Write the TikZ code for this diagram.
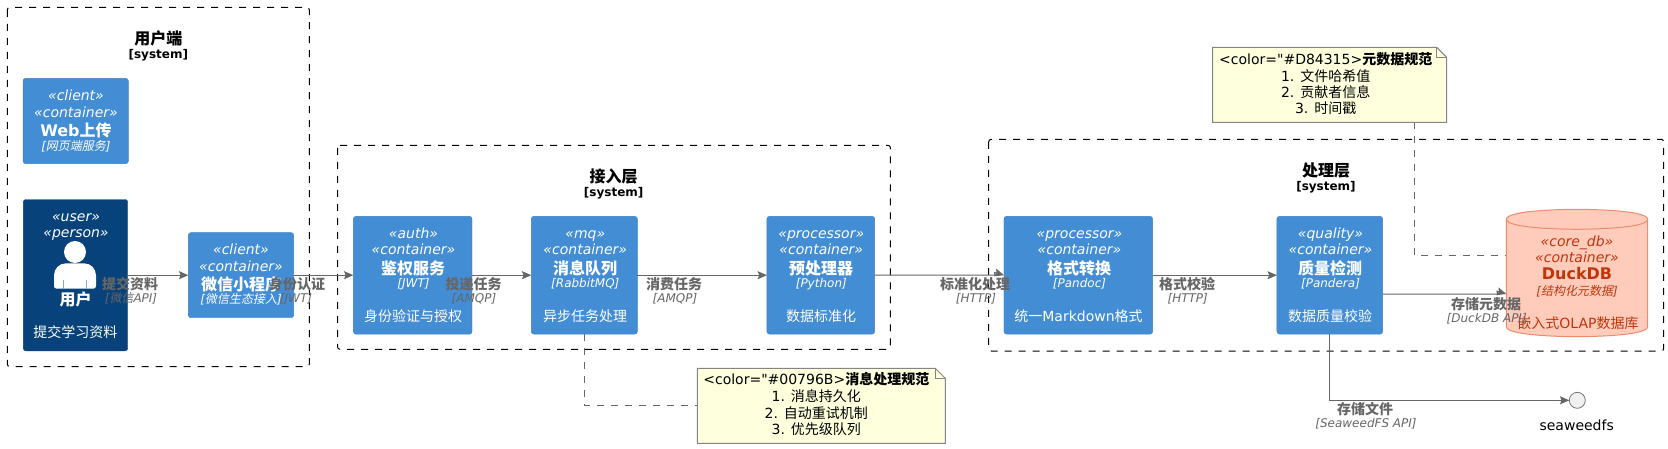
\documentclass[tikz,border=0pt]{standalone}
\usepackage{fontspec}
\usetikzlibrary{arrows.meta}
\setmainfont[Ligatures=TeXOff]{DejaVu Sans}
\newfontfamily\cjk[AutoFakeSlant=0.2]{Noto Sans CJK SC}
\newcommand{\C}[1]{{\cjk #1}}
\definecolor{cblue}{HTML}{438DD5}
\definecolor{cperson}{HTML}{08427B}
\definecolor{cgray}{HTML}{666666}
\definecolor{cnote}{HTML}{FEFFDD}
\definecolor{cnoteline}{HTML}{858585}
\definecolor{cdbfill}{HTML}{FFCCBC}
\definecolor{cdbline}{HTML}{EE8B6E}
\definecolor{cdbtext}{HTML}{BF360C}
\definecolor{cifill}{HTML}{F1F1F1}
\tikzset{
  base/.style={inner sep=0pt,outer sep=0pt},
  sysbox/.style={draw=black,line width=0.75pt,dash pattern=on 5.25pt off 5.25pt,rounded corners=1.9pt,fill=none},
  contbox/.style={base,fill=cblue,draw=cblue!90!black,line width=0.3pt,rounded corners=1.9pt},
  persbox/.style={base,fill=cperson,draw=cperson,line width=0.3pt,rounded corners=1.9pt},
  ster/.style={base,font=\fontsize{10.5}{12}\selectfont\itshape,text height=8.8pt,text depth=2.5pt},
  ttl/.style={base,font=\fontsize{12}{14}\selectfont\bfseries,text height=10.6pt,text depth=1.4pt},
  tech/.style={base,font=\fontsize{9}{11}\selectfont\itshape,text height=7.6pt,text depth=2pt},
  dsc/.style={base,font=\fontsize{10.5}{12}\selectfont,text height=9.5pt,text depth=1pt},
  systitle/.style={base,font=\fontsize{12}{14}\selectfont\bfseries,text height=11pt,text depth=1pt},
  syssub/.style={base,font=\fontsize{9}{11}\selectfont\bfseries,text height=7.8pt,text depth=2pt},
  rel/.style={draw=cgray,line width=0.75pt,-{Stealth[length=7pt,width=6pt,inset=1.2pt,fill=cgray]}},
  rellab/.style={base,text=cgray,font=\fontsize{10.5}{12}\selectfont\bfseries,text height=9.5pt,text depth=1pt},
  reltech/.style={base,text=cgray,font=\fontsize{9}{11}\selectfont\itshape,text height=7.6pt,text depth=2pt},
  notelink/.style={draw=cgray,line width=0.6pt,dash pattern=on 5.25pt off 5.25pt},
  notebody/.style={draw=cnoteline,line width=0.75pt,fill=cnote},
  notetxt/.style={base,font=\fontsize{10.5}{12}\selectfont,text height=8pt,text depth=2.5pt},
  W/.style={text=white},
  D/.style={text=cdbtext}
}
\begin{document}
\begin{tikzpicture}[x=0.75pt,y=-0.75pt]
\useasboundingbox (0,0) rectangle (1668,449);

% system boundaries
\draw[sysbox] (7.3,7.3) rectangle (309.3,366.7);
\draw[sysbox] (337.5,145.3) rectangle (890.4,349.3);
\draw[sysbox] (988.7,139.3) rectangle (1663.7,351);
\node[systitle] (s1t) at (158.3,38.3) {\C{用户端}};
\node[syssub] (s1s) at (158.3,55) {[system]};
\node[systitle] (s2t) at (613.7,176) {\C{接入层}};
\node[syssub] (s2s) at (613.7,193) {[system]};
\node[systitle] (s3t) at (1326,170) {\C{处理层}};
\node[syssub] (s3s) at (1326,187) {[system]};

% boxes
\node[contbox,minimum width=78.9pt,minimum height=64pt] (web) at (75.7,121) {};
\node[persbox,minimum width=78.3pt,minimum height=113.5pt] (user) at (75.5,275.2) {};
\node[contbox,minimum width=79pt,minimum height=63.8pt] (wx) at (241,275.2) {};
\node[contbox,minimum width=89pt,minimum height=88.3pt] (auth) at (412.7,275.2) {};
\node[contbox,minimum width=79.5pt,minimum height=88.3pt] (mq) at (584.3,275.2) {};
\node[contbox,minimum width=80.8pt,minimum height=88.3pt] (pre) at (820.8,275.2) {};
\node[contbox,minimum width=111.5pt,minimum height=88.3pt] (fmt) at (1078.3,275.2) {};
\node[contbox,minimum width=79.3pt,minimum height=88.3pt] (qual) at (1329.8,275.2) {};

% database
\node[base,minimum width=106pt,minimum height=95.5pt] (duck) at (1577,273) {};
\draw[draw=cdbline,line width=0.75pt,fill=cdbfill]
  (1506.3,219.3) .. controls (1506.3,209.3) and (1577,209.3) .. (1577,209.3)
  .. controls (1577,209.3) and (1647.7,209.3) .. (1647.7,219.3)
  -- (1647.7,326.7) .. controls (1647.7,336.7) and (1577,336.7) .. (1577,336.7)
  .. controls (1577,336.7) and (1506.3,336.7) .. (1506.3,326.7) -- cycle;
\draw[draw=cdbline,line width=0.75pt]
  (1506.3,219.3) .. controls (1506.3,229.3) and (1577,229.3) .. (1577,229.3)
  .. controls (1577,229.3) and (1647.7,229.3) .. (1647.7,219.3);

% interface
\node[base,circle,draw=black!55,line width=0.6pt,fill=cifill,minimum size=12pt] (sw) at (1577.3,400.3) {};

% person icon
\fill[white] (75,252) circle[radius=8.25pt];
\fill[white] (54,288.7) [rounded corners=9pt] -- (54,263.3) -- (96,263.3) [rounded corners=2pt] -- (96,288.7) -- (54,288.7) -- cycle;
\draw[cblue!70!white,line width=0.4pt] (63.3,280) -- (63.3,288.7) (86.3,280) -- (86.3,288.7);

% note links
\coordinate (n2a) at (1414.3,122.3);
\coordinate (n2b) at (1506.3,255.3);
\coordinate (dq) at (1382.7,294);
\coordinate (t1a) at (995,275.2);
\coordinate (t1b) at (994.5,272.4);
\coordinate (t2a) at (1497.5,294);
\coordinate (t2b) at (1497,291.2);
\node[base,minimum width=186pt,minimum height=56.25pt] (nm) at (821.3,405.8) {};
\node[base,minimum width=175.5pt,minimum height=56.25pt] (nd) at (1329.7,84.8) {};
\draw[notelink] (mq.south) -- (mq.south |- nm.west) -- (nm.west);
\draw[notelink] (n2a) -- (n2a |- n2b) -- (n2b);

% notes
\draw[notebody] (697.3,368.3) -- (935.3,368.3) -- (945.3,378.3) -- (945.3,443.3) -- (697.3,443.3) -- cycle;
\draw[notebody,fill=none] (935.3,368.3) -- (935.3,378.3) -- (945.3,378.3);
\draw[notebody] (1212.7,47.3) -- (1436.7,47.3) -- (1446.7,57.3) -- (1446.7,122.3) -- (1212.7,122.3) -- cycle;
\draw[notebody,fill=none] (1436.7,47.3) -- (1436.7,57.3) -- (1446.7,57.3);
\node[notetxt] (m1) at (816.3,380.7) {<color="\#00796B>\textbf{\C{消息处理规范}}};
\node[notetxt] (m2) at (816.3,398.3) {1. \C{消息持久化}};
\node[notetxt] (m3) at (816.3,415) {2. \C{自动重试机制}};
\node[notetxt] (m4) at (816.3,430.7) {3. \C{优先级队列}};
\node[notetxt] (d1) at (1325.7,60.7) {<color="\#D84315>\textbf{\C{元数据规范}}};
\node[notetxt] (d2) at (1325.7,77.7) {1. \C{文件哈希值}};
\node[notetxt] (d3) at (1325.7,93.7) {2. \C{贡献者信息}};
\node[notetxt] (d4) at (1325.7,110) {3. \C{时间戳}};

% connectors
\draw[rel] (user) -- (wx);
\draw[rel] (wx) -- (auth);
\draw[rel] (auth) -- (mq);
\draw[rel] (mq) -- (pre);
\draw[rel] (pre.east) -- (t1a) -- (t1b) -- (fmt.west);
\draw[rel] (fmt) -- (qual);
\draw[rel] (dq) -- (t2a) -- (t2b) -- (dq -| duck.west);
\draw[rel] (qual.south) -- (qual.south |- sw.west) -- (sw.west);

% box texts
\node[ster,W] (web1) at (76,96.7) {«client»};
\node[ster,W] (web2) at (76,113.3) {«container»};
\node[ttl,W] (web3) at (76,130.7) {Web\C{上传}};
\node[tech,W] (web4) at (76,146.7) {[\C{网页端服务}]};

\node[ster,W] (u1) at (76,217.3) {«user»};
\node[ster,W] (u2) at (76,233.3) {«person»};
\node[ttl,W] (u3) at (75.5,299.3) {\C{用户}};
\node[dsc,W] (u4) at (75.5,332.3) {\C{提交学习资料}};

\node[ster,W] (wx1) at (241,250) {«client»};
\node[ster,W] (wx2) at (241,267.3) {«container»};
\node[ttl,W] (wx3) at (241,284) {\C{微信小程序}};
\node[tech,W] (wx4) at (241,300) {[\C{微信生态接入}]};

\node[ster,W] (a1) at (413.5,234) {«auth»};
\node[ster,W] (a2) at (413.5,250) {«container»};
\node[ttl,W] (a3) at (413,268.3) {\C{鉴权服务}};
\node[tech,W] (a4) at (413.5,283.7) {[JWT]};
\node[dsc,W] (a5) at (413,315.7) {\C{身份验证与授权}};

\node[ster,W] (q1) at (585.3,234) {«mq»};
\node[ster,W] (q2) at (585.3,250) {«container»};
\node[ttl,W] (q3) at (585,268.3) {\C{消息队列}};
\node[tech,W] (q4) at (585.3,283.7) {[RabbitMQ]};
\node[dsc,W] (q5) at (585,315.7) {\C{异步任务处理}};

\node[ster,W] (p1) at (821.3,234) {«processor»};
\node[ster,W] (p2) at (821.3,250) {«container»};
\node[ttl,W] (p3) at (821,268.3) {\C{预处理器}};
\node[tech,W] (p4) at (821.3,283.7) {[Python]};
\node[dsc,W] (p5) at (821,315.7) {\C{数据标准化}};

\node[ster,W] (f1) at (1079.5,234) {«processor»};
\node[ster,W] (f2) at (1079.5,250) {«container»};
\node[ttl,W] (f3) at (1079,268.3) {\C{格式转换}};
\node[tech,W] (f4) at (1079.5,283.7) {[Pandoc]};
\node[dsc,W] (f5) at (1078.5,315.7) {\C{统一}Markdown\C{格式}};

\node[ster,W] (c1) at (1330.5,234) {«quality»};
\node[ster,W] (c2) at (1330.5,250) {«container»};
\node[ttl,W] (c3) at (1330,268.3) {\C{质量检测}};
\node[tech,W] (c4) at (1330.5,283.7) {[Pandera]};
\node[dsc,W] (c5) at (1330,315.7) {\C{数据质量校验}};

\node[ster,D] (k1) at (1577,242.3) {«core\_db»};
\node[ster,D] (k2) at (1577,258.3) {«container»};
\node[ttl,D] (k3) at (1577,273.5) {DuckDB};
\node[tech,D] (k4) at (1577,292) {[\C{结构化元数据}]};
\node[dsc,D] (k5) at (1578,322.7) {\C{嵌入式}OLAP\C{数据库}};

% connector labels
\node[rellab] (l1) at (130,284) {\C{提交资料}};
\node[reltech] (l1t) at (131,299) {[\C{微信}API]};
\node[rellab] (l2) at (297,284) {\C{身份认证}};
\node[reltech] (l2t) at (296,299) {[JWT]};
\node[rellab] (l3) at (473.7,284) {\C{投递任务}};
\node[reltech] (l3t) at (474,299) {[AMQP]};
\node[rellab] (l4) at (674,284) {\C{消费任务}};
\node[reltech] (l4t) at (675,299) {[AMQP]};
\node[rellab] (l5) at (975,284) {\C{标准化处理}};
\node[reltech] (l5t) at (976,299) {[HTTP]};
\node[rellab] (l6) at (1187,284) {\C{格式校验}};
\node[reltech] (l6t) at (1187.7,299) {[HTTP]};
\node[rellab] (l7) at (1486,304) {\C{存储元数据}};
\node[reltech] (l7t) at (1486.7,318.7) {[DuckDB API]};
\node[rellab] (l8) at (1365,409) {\C{存储文件}};
\node[reltech] (l8t) at (1366,424) {[SeaweedFS API]};

\node[dsc] (swl) at (1576.7,425.3) {seaweedfs};
\end{tikzpicture}
\end{document}
